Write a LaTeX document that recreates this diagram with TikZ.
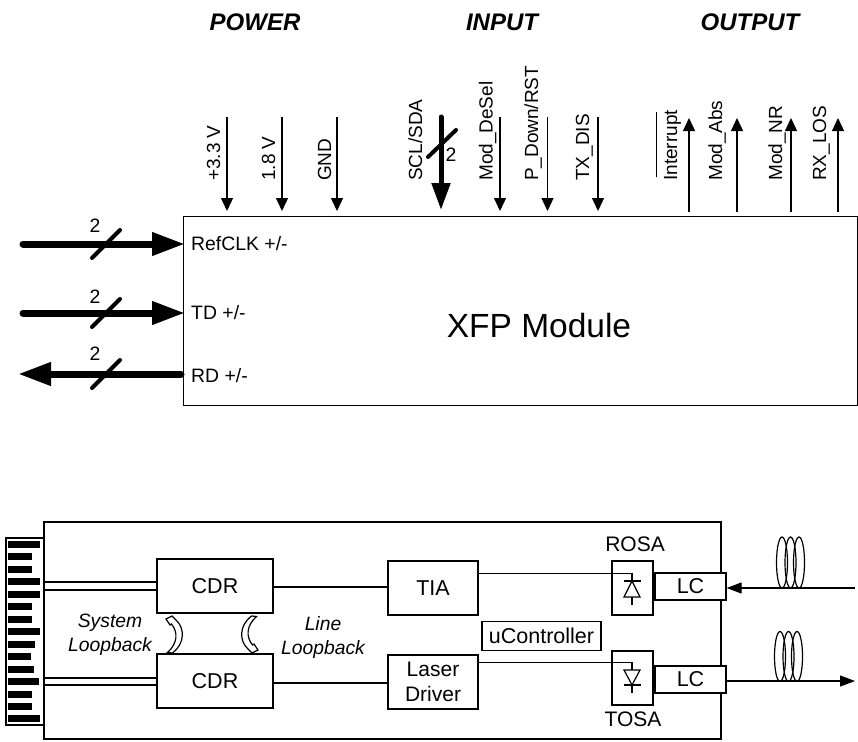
\documentclass[tikz,border=0pt]{standalone}
\usepackage{fontspec}
\setmainfont{Liberation Sans}
\usetikzlibrary{arrows.meta}
\tikzset{
    sig/.style={line width=1.3pt,-{Triangle[length=13pt,width=12pt]}},
    bus/.style={line width=7pt,line cap=round,-{Triangle[length=33pt,width=22pt]}},
    sclbus/.style={line width=5pt,line cap=round,-{Triangle[length=27pt,width=18pt]}},
    slash/.style={line width=4pt,line cap=round},
    thin line/.style={line width=1.2pt},
    fibre/.style={line width=1.2pt,-{Triangle[length=15pt,width=11pt]}},
    pin/.style={rotate=90,anchor=base west,font=\fontsize{19}{19}\selectfont,inner sep=0pt},
    lbl/.style={font=\fontsize{19.4}{19.4}\selectfont,inner sep=0pt},
    head/.style={font=\fontsize{24}{24}\selectfont\bfseries\itshape,inner sep=0pt},
    loopb/.style={font=\fontsize{19.3}{19.3}\selectfont\itshape,inner sep=0pt,align=center},
    block/.style={draw,line width=1.2pt,inner sep=0pt,font=\fontsize{21.5}{21.5}\selectfont},
    finger/.style={fill=black,draw=none}
}
\begin{document}
\begin{tikzpicture}[x=1pt,y=-1pt]
    \useasboundingbox (0,0) rectangle (858,741);
    \node[head] (power) at (255,22) {POWER};
    \node[head] (input) at (502,22) {INPUT};
    \node[head] (output) at (750,22) {OUTPUT};
    % upper module
    \node[block,minimum width=674pt,minimum height=189pt,anchor=north west] (xfp) at (183,216) {};
    \node[font=\fontsize{33.5}{33.5}\selectfont,inner sep=0pt] (xfplabel) at (539,326) {XFP Module};
    % pins on top
    \foreach \name/\x/\tx/\txt in {vcc/227/220/{+3.3 V},vlow/282/275/{1.8 V},gnd/337/331/{GND},deselect/500/492.5/{Mod\_DeSel},pdown/547.5/538/{P\_Down/RST},txdis/598/589/{TX\_DIS}}{
        \coordinate (\name a) at (\x,117);
        \coordinate (\name b) at (\x,211);
        \draw[sig] (\name a) -- (\name b);
        \node[pin] (\name) at (\tx,181) {\txt};
    }
    \foreach \name/\x/\tx/\txt in {irq/689/677/{Interrupt},absent/737/722/{Mod\_Abs},notready/791/782/{Mod\_NR},los/838/826/{RX\_LOS}}{
        \coordinate (\name a) at (\x,212);
        \coordinate (\name b) at (\x,118);
        \draw[sig] (\name a) -- (\name b);
        \node[pin] (\name) at (\tx,181) {\txt};
    }
    \coordinate (irqbara) at (656.7,177);
    \coordinate (irqbarb) at (656.7,112);
    \draw[thin line] (irqbara) -- (irqbarb);
    \node[pin] (scl) at (422,181) {SCL/SDA};
    \coordinate (scla) at (441,117);
    \coordinate (sclb) at (441,210);
    \draw[sclbus] (scla) -- (sclb);
    \coordinate (sclsa) at (428,157);
    \coordinate (sclsb) at (456,130);
    \draw[slash] (sclsa) -- (sclsb);
    \node[lbl] (scltwo) at (451,155) {2};
    % high speed pins
    \coordinate (refa) at (23,244);
    \coordinate (tda) at (23,313);
    \coordinate (rda) at (181,374);
    \coordinate (refb) at (185,244);
    \coordinate (tdb) at (185,313);
    \coordinate (rdb) at (18,374);
    \draw[bus] (refa) -- (refb);
    \draw[bus] (tda) -- (tdb);
    \draw[bus] (rda) -- (rdb);
    \foreach \name/\y in {ref/244,td/313,rd/374}{
        \coordinate (\name sa) at (92,\y+14);
        \coordinate (\name sb) at (120,\y-14);
        \draw[slash] (\name sa) -- (\name sb);
    }
    \node[lbl] (reftwo) at (95,226) {2};
    \node[lbl] (tdtwo) at (95,297) {2};
    \node[lbl] (rdtwo) at (95,354) {2};
    \node[lbl,anchor=west] (reflabel) at (191,244) {RefCLK +/-};
    \node[lbl,anchor=west] (tdlabel) at (191,313) {TD +/-};
    \node[lbl,anchor=west] (rdlabel) at (191,376) {RD +/-};
    % lower module
    \draw[line width=2pt] (44,522) rectangle (721,739);
    \draw[line width=2pt] (44,538) -- (6,538) -- (6,725) -- (44,725);
    \foreach \y/\e in {544/40,556.7/32,569/32,581.7/40,594/40,606.7/32,619/32,631.7/40,644/35,656.7/31,669/34,681/39,694/32,706/32,718.7/40}{
        \fill[finger] (8,\y-3.5) rectangle (\e,\y+3.5);
    }
    \node[block,minimum width=116pt,minimum height=54pt] (cdrtop) at (215,586) {CDR};
    \node[block,minimum width=116pt,minimum height=54pt] (cdrbot) at (215,681) {CDR};
    \node[block,minimum width=90pt,minimum height=54pt] (tia) at (433,588) {TIA};
    \node[block,minimum width=90pt,minimum height=54pt,align=center,font=\fontsize{21}{25}\selectfont] (laser) at (433,682) {Laser\\Driver};
    \node[block,minimum width=119pt,minimum height=29pt] (uctrl) at (541.5,636) {uController};
    \node[block,minimum width=41pt,minimum height=54pt] (rosa) at (632.5,588) {};
    \node[block,minimum width=41pt,minimum height=54pt] (tosa) at (632.5,678) {};
    \node[block,fill=white,minimum width=71pt,minimum height=27pt] (lctop) at (690.5,586.5) {LC};
    \node[block,fill=white,minimum width=71pt,minimum height=27pt] (lcbot) at (690.5,679.5) {LC};
    \node[lbl,font=\fontsize{21}{21}\selectfont] (rosalabel) at (635,544) {ROSA};
    \node[lbl,font=\fontsize{21}{21}\selectfont] (tosalabel) at (633,719) {TOSA};
    \node[loopb] (sysloop) at (110,635) {System\\[5pt]Loopback};
    \node[loopb] (lineloop) at (323,637.5) {Line\\[5pt]Loopback};
    % double lines to the edge connector
    \foreach \y in {582,590,678,685}{
        \coordinate (edge\y) at (44,\y);
        \coordinate (cdr\y) at (157,\y);
        \draw[thin line] (edge\y) -- (cdr\y);
    }
    \draw[thin line] ([yshift=-1pt]cdrtop.east) -- ([yshift=-1pt]cdrtop.east -| tia.west);
    \draw[thin line] ([yshift=-2pt]cdrbot.east) -- ([yshift=-2pt]cdrbot.east -| laser.west);
    % photodiode
    \coordinate (rosain) at (478,573.5);
    \coordinate (rosatop) at (632,581);
    \draw[thin line] (rosain) -| (rosatop);
    \draw[thin line] (624,581) -- (641,581);
    \draw[thin line] (632,581) -- (624,597) -- (640,597) -- cycle;
    \draw[thin line] (632,597) -- (632,605);
    % laser diode
    \coordinate (tosain) at (478,662.7);
    \coordinate (tosatop) at (632,670);
    \draw[thin line] (tosain) -| (tosatop);
    \draw[thin line] (624,670) -- (640,670) -- (632,685) -- cycle;
    \draw[thin line] (624,685) -- (641,685);
    \draw[thin line] (632,685) -- (632,693);
    % fibres
    \foreach \x in {782,790.5,799}{
        \draw[thin line] (\x,562.5) ellipse (5.5pt and 25.5pt);
    }
    \foreach \x in {780,788.5,797}{
        \draw[thin line] (\x,656.5) ellipse (5.5pt and 25pt);
    }
    \coordinate (fibin) at (855,588);
    \coordinate (fibout) at (855,681);
    \draw[fibre] (fibin) -- (lctop.east |- fibin);
    \draw[fibre] (lcbot.east |- fibout) -- (fibout);
    % loopback arrows
    \draw[line width=1.2pt,fill=white] (172.3,653) .. controls (185,644) and (185,628) .. (176,620) -- (172,616) -- (166,619) -- (170,625) -- (171.5,624) .. controls (178,632) and (178,643) .. (167.5,652.5) -- cycle;
    \draw[line width=1.2pt,fill=white] (251.7,616) .. controls (239,625) and (239,641) .. (248,649) -- (252,653) -- (258,650) -- (254,644) -- (252.5,645) .. controls (246,637) and (246,626) .. (256.5,616.5) -- cycle;
\end{tikzpicture}
\end{document}
